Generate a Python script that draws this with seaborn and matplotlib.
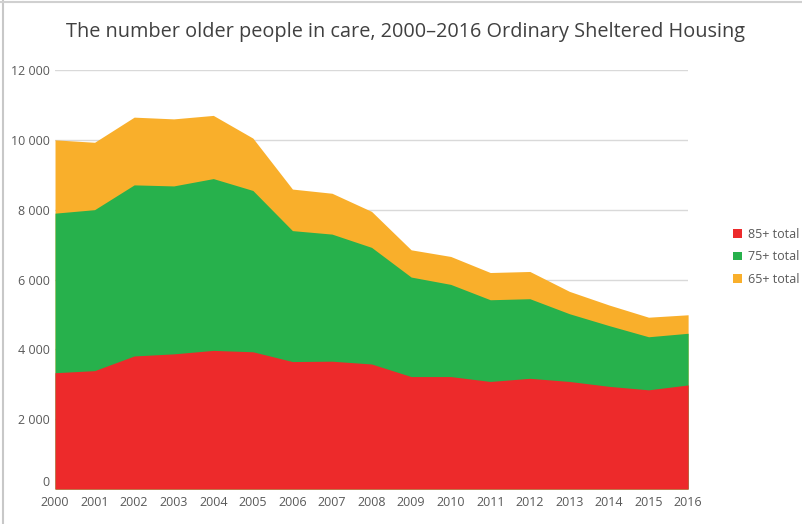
import numpy as np
import pandas as pd
import matplotlib.pyplot as plt
import seaborn as sns
from matplotlib.patches import Patch
from matplotlib.ticker import FuncFormatter

years = list(range(2000, 2017))
# cumulative totals
total_85 = [3330, 3390, 3810, 3870, 3970, 3930, 3650, 3660, 3580, 3220, 3220, 3080, 3170, 3080, 2940, 2840, 2980]
total_75 = [7900, 8000, 8710, 8680, 8890, 8550, 7400, 7300, 6920, 6070, 5860, 5420, 5450, 5020, 4680, 4360, 4460]
total_65 = [10000, 9930, 10650, 10600, 10700, 10050, 8590, 8470, 7950, 6850, 6660, 6200, 6230, 5660, 5270, 4920, 4990]

labels = ['85+ total', '75+ total', '65+ total']
colors = ['#ED2A2B', '#27B14C', '#F9AF2B']

df = pd.DataFrame({'Year': years, '85+ total': total_85,
                   '75+ total': total_75, '65+ total': total_65})

sns.set_style('white')
plt.rcParams['font.family'] = ['Open Sans', 'DejaVu Sans']

fig = plt.figure(figsize=(8.02, 5.24), dpi=100)
ax = fig.add_axes([0.0686, 0.0668, 0.7894, 0.7996])

# draw biggest total first so the smaller ones sit on top
for lab, col in reversed(list(zip(labels, colors))):
    ax.fill_between(df['Year'], 0, df[lab], color=col, linewidth=0, zorder=2)

ax.set_xlim(2000, 2016)
ax.set_ylim(0, 12000)
ax.set_xticks(years)
ax.set_yticks(range(0, 12001, 2000))
ax.yaxis.set_major_formatter(FuncFormatter(lambda v, p: f'{int(v):,}'.replace(',', ' ')))
ax.grid(axis='y', color='#D9D9D9', linewidth=1, zorder=0)
ax.set_axisbelow(True)
sns.despine(ax=ax, left=True, bottom=True)
ax.tick_params(axis='both', length=0, labelsize=9, labelcolor='#595959')
ax.tick_params(axis='x', pad=5)
ax.tick_params(axis='y', pad=4)
# the zero label sits a little above the year labels
ax.get_yticklabels()[0].set_verticalalignment('bottom')

fig.suptitle('The number older people in care, 2000\u20132016 Ordinary Sheltered Housing',
             x=0.505, y=0.958, fontsize=14.3, color='#404040')

handles = [Patch(facecolor=c, edgecolor='none') for c in colors]
fig.legend(handles, labels, loc='center left', bbox_to_anchor=(0.9, 0.51),
           frameon=False, fontsize=9, labelcolor='#595959',
           handlelength=0.7, handleheight=0.7, handletextpad=0.5, labelspacing=0.75)

# thin frame on the left and top edge like the screenshot
fig.add_artist(plt.Line2D([0.004, 0.004], [0, 1], color='#C8C8C8', linewidth=1.5))
fig.add_artist(plt.Line2D([0, 1], [0.997, 0.997], color='#D0D0D0', linewidth=1.5))

plt.savefig('out.png', dpi=100)
plt.close()
